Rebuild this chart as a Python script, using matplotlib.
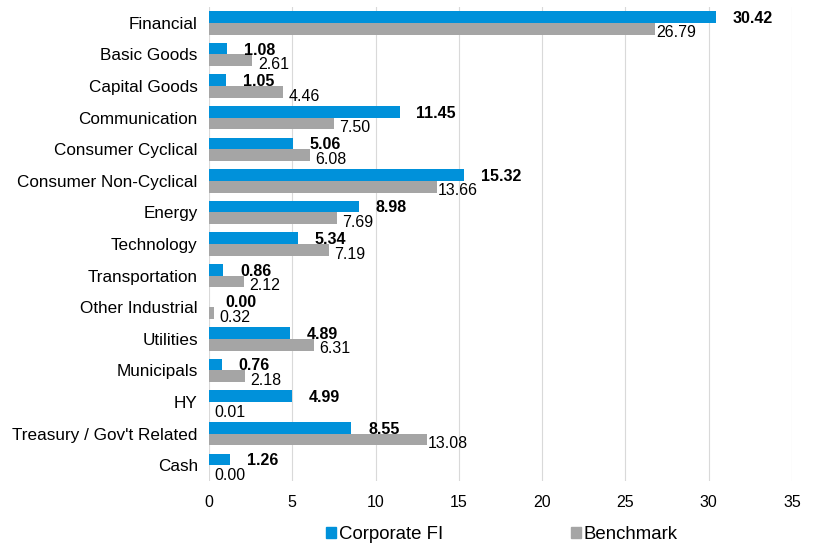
import numpy as np
import matplotlib.pyplot as plt
from matplotlib.patches import Patch

plt.rcParams['font.family'] = ['Liberation Sans', 'DejaVu Sans']

categories = ["Financial", "Basic Goods", "Capital Goods", "Communication",
              "Consumer Cyclical", "Consumer Non-Cyclical", "Energy", "Technology",
              "Transportation", "Other Industrial", "Utilities", "Municipals", "HY",
              "Treasury / Gov't Related", "Cash"]
corporate_fi = [30.42, 1.08, 1.05, 11.45, 5.06, 15.32, 8.98, 5.34,
                0.86, 0.00, 4.89, 0.76, 4.99, 8.55, 1.26]
benchmark = [26.79, 2.61, 4.46, 7.50, 6.08, 13.66, 7.69, 7.19,
             2.12, 0.32, 6.31, 2.18, 0.01, 13.08, 0.00]
xticks = [0, 5, 10, 15, 20, 25, 30, 35]

blue = '#0091DA'
grey = '#A5A5A5'

fig = plt.figure(figsize=(8.15, 5.44), dpi=100)
ax = fig.add_axes([0.2564, 0.1158, 0.7154, 0.8712])

y = np.arange(len(categories))
h = 0.37
ax.barh(y - h/2, corporate_fi, height=h, color=blue, zorder=3)
ax.barh(y + h/2, benchmark, height=h, color=grey, zorder=3)

# value labels
for yi, v in zip(y, corporate_fi):
    ax.annotate(f"{v:.2f}", (v, yi - h/2), xytext=(12, -1), textcoords='offset points',
                ha='left', va='center', fontsize=11.5, fontweight='bold', color='black')
for yi, v in zip(y, benchmark):
    ax.annotate(f"{v:.2f}", (v, yi + h/2), xytext=(15, -3), textcoords='offset points',
                ha='center', va='center', fontsize=11.5, color='black')

ax.set_ylim(len(categories) - 0.5, -0.5)
ax.set_xlim(0, 35)
ax.set_xticks(xticks)
ax.set_yticks(y)
ax.set_yticklabels(categories, fontsize=12.3)
ax.tick_params(axis='x', labelsize=11.5, length=0, pad=10)
ax.tick_params(axis='y', length=0, pad=8)
ax.grid(axis='x', color='#D9D9D9', linewidth=0.8, zorder=0)
for s in ax.spines.values():
    s.set_visible(False)

handles = [Patch(color=blue, label='Corporate FI'), Patch(color=grey, label='Benchmark')]
fig.legend(handles=handles, loc='center', bbox_to_anchor=(0.6155, 0.018), ncol=2,
           frameon=False, fontsize=13.4, handlelength=0.55, handleheight=0.55,
           handletextpad=0.15, columnspacing=6.85, borderpad=0, borderaxespad=0)

fig.savefig('out.png', dpi=100)
